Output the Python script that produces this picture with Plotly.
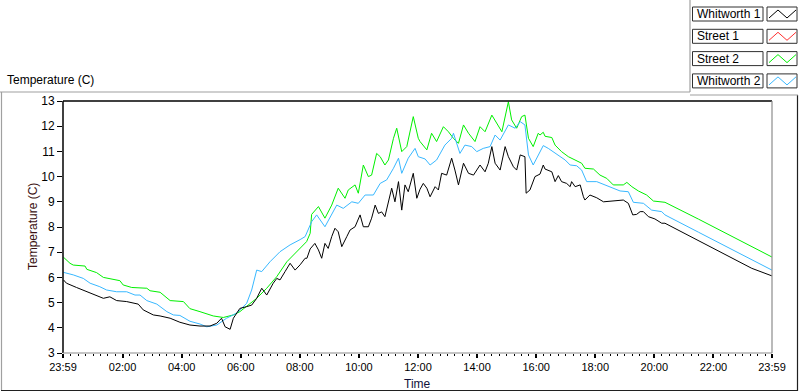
import plotly.graph_objects as go

# ---------------- data (hours since 00:00, temperature in C) ----------------
tick_hours = [-1/60, 2, 4, 6, 8, 10, 12, 14, 16, 18, 20, 22, 24 - 1/60]
tick_labels = ["23:59", "02:00", "04:00", "06:00", "08:00", "10:00", "12:00",
               "14:00", "16:00", "18:00", "20:00", "22:00", "23:59"]
series_names = ["Whitworth 1", "Street 1", "Street 2", "Whitworth 2"]
series_colors = ["#000000", "#ff3030", "#00f000", "#38b8ff"]

whitworth1_h = [0, 0.1, 0.44, 0.79, 1.0, 1.35, 1.57, 1.8, 2.14, 2.31, 2.53, 2.7, 3.04, 3.27, 3.61,
                3.94, 4.28, 4.62, 4.96, 5.19, 5.35, 5.47, 5.64, 5.75, 5.97, 6.2, 6.37, 6.54, 6.71,
                6.88, 7.1, 7.22, 7.33, 7.5, 7.67, 7.84, 8.01, 8.18, 8.24, 8.35, 8.51, 8.63, 8.74,
                8.85, 8.96, 9.08, 9.19, 9.3, 9.42, 9.59, 9.7, 9.87, 10.04, 10.15, 10.32, 10.43,
                10.55, 10.66, 10.77, 10.88, 11.0, 11.11, 11.22, 11.34, 11.45, 11.56, 11.67, 11.84,
                11.96, 12.07, 12.18, 12.3, 12.41, 12.58, 12.69, 12.8, 12.97, 13.14, 13.25, 13.37,
                13.54, 13.71, 13.88, 14.1, 14.27, 14.38, 14.5, 14.61, 14.78, 14.95, 15.06, 15.23,
                15.34, 15.46, 15.62, 15.66, 15.79, 15.96, 16.13, 16.24, 16.3, 16.53, 16.64, 16.75,
                16.86, 17.03, 17.15, 17.2, 17.32, 17.49, 17.6, 17.65, 17.82, 18.05, 18.28, 18.61,
                18.95, 19.12, 19.27, 19.4, 19.52, 19.63, 19.8, 20.02, 20.25, 20.36, 21.5, 22.5,
                23.3, 23.98]
whitworth1_t = [5.9, 5.77, 5.6, 5.43, 5.34, 5.17, 5.23, 5.08, 5.04, 5.0, 4.94, 4.71, 4.51, 4.47, 4.38,
                4.22, 4.11, 4.07, 4.07, 4.18, 4.38, 4.04, 3.94, 4.38, 4.77, 4.84, 4.9, 5.17, 5.57,
                5.3, 5.77, 5.96, 5.9, 6.23, 6.56, 6.29, 6.5, 6.76, 6.76, 7.13, 7.35, 7.09, 6.76,
                7.35, 7.15, 7.62, 7.95, 7.81, 7.22, 7.62, 7.88, 8.01, 8.48, 8.01, 8.01, 8.35,
                8.87, 8.54, 8.6, 8.41, 9.0, 9.54, 9.0, 9.8, 8.67, 9.67, 9.4, 10.13,
                9.14, 9.5, 9.73, 9.54, 9.2, 9.6, 9.47, 10.13, 10.06, 10.73, 10.26, 9.67,
                10.53, 10.13, 10.06, 10.46, 10.19, 10.53, 11.19, 10.53, 10.26, 11.19, 10.79, 10.39,
                10.26, 10.86, 10.79, 9.34, 9.47, 10.0, 10.1, 10.46, 10.3, 10.19, 9.8, 10.04,
                9.8, 9.73, 9.6, 9.8, 9.6, 9.67, 9.2, 9.07, 9.27, 9.16, 9.0, 9.03,
                9.07, 8.94, 8.48, 8.5, 8.61, 8.61, 8.41, 8.32, 8.15, 8.15, 7.45, 6.85,
                6.36, 6.06]

street1_h = []
street1_t = []

street2_h = [0, 0.22, 0.33, 0.73, 0.79, 1.12, 1.35, 1.91, 2.02, 2.31, 2.82, 2.93, 3.27, 3.61, 4.06,
             4.28, 4.62, 5.07, 5.41, 5.75, 5.97, 6.2, 6.54, 6.88, 7.22, 7.56, 7.84, 8.01, 8.23,
             8.35, 8.4, 8.63, 8.85, 9.08, 9.3, 9.53, 9.64, 9.87, 9.98, 10.15, 10.32, 10.43, 10.6,
             10.72, 10.88, 11.0, 11.17, 11.28, 11.45, 11.62, 11.84, 12.01, 12.07, 12.3, 12.46,
             12.63, 12.86, 13.03, 13.2, 13.37, 13.54, 13.71, 13.93, 14.1, 14.27, 14.5, 14.67,
             14.84, 15.06, 15.17, 15.34, 15.51, 15.62, 15.74, 15.9, 16.07, 16.13, 16.24, 16.3,
             16.53, 16.64, 16.86, 17.09, 17.32, 17.54, 17.65, 17.94, 18.16, 18.39, 18.61, 18.95,
             19.07, 19.24, 19.46, 19.74, 19.97, 20.36, 21.5, 22.5, 23.3, 23.98]
street2_t = [6.8, 6.56, 6.49, 6.45, 6.32, 6.19, 6.0, 5.87, 5.7, 5.6, 5.57, 5.47, 5.41, 5.08, 5.04,
             4.76, 4.64, 4.47, 4.41, 4.51, 4.64, 4.84, 5.17, 5.57, 6.03, 6.62, 6.96, 7.15, 7.42,
             7.75, 8.5, 8.81, 8.35, 8.87, 9.54, 9.14, 9.47, 9.67, 9.34, 10.46, 10.0, 10.06, 10.92,
             10.79, 10.46, 10.66, 11.52, 11.92, 10.99, 11.19, 12.38, 11.52, 11.39, 11.06, 11.72,
             11.39, 11.98, 11.78, 11.52, 11.32, 12.05, 11.72, 11.39, 11.98, 11.78, 12.44, 12.12,
             11.78, 12.97, 12.25, 11.92, 12.38, 12.44, 11.52, 11.19, 11.72, 11.65, 11.76, 11.6,
             11.55, 11.25, 10.99, 10.79, 10.66, 10.53, 10.33, 10.3, 10.06, 9.93, 9.67, 9.67,
             9.77, 9.6, 9.43, 9.27, 9.03, 8.98, 8.31, 7.7, 7.22, 6.81]

whitworth2_h = [0, 0.33, 0.67, 0.9, 1.23, 1.46, 1.8, 2.14, 2.42, 2.59, 2.82, 3.16, 3.5, 3.72, 3.94,
                4.28, 4.62, 4.85, 5.19, 5.52, 5.86, 6.2, 6.37, 6.54, 6.71, 6.99, 7.33, 7.67, 8.01,
                8.18, 8.4, 8.57, 8.85, 9.08, 9.25, 9.47, 9.76, 9.98, 10.21, 10.49, 10.72, 10.94,
                11.17, 11.34, 11.45, 11.67, 11.9, 12.01, 12.24, 12.41, 12.63, 12.91, 13.14, 13.2,
                13.42, 13.59, 13.82, 13.99, 14.21, 14.44, 14.61, 14.78, 15.06, 15.29, 15.46, 15.62,
                15.74, 15.9, 16.07, 16.24, 16.41, 16.64, 16.98, 17.15, 17.37, 17.54, 17.71, 18.05,
                18.33, 18.84, 19.12, 19.29, 19.63, 19.91, 20.25, 20.36, 21.5, 22.5, 23.3, 23.98]
whitworth2_t = [6.2, 6.1, 5.96, 5.77, 5.63, 5.5, 5.43, 5.43, 5.3, 5.3, 5.08, 4.94, 4.64, 4.51, 4.49,
                4.26, 4.15, 4.04, 4.11, 4.38, 4.58, 4.97, 5.5, 6.29, 6.23, 6.62, 7.02, 7.29, 7.5,
                7.62, 8.21, 8.48, 8.01, 8.48, 8.87, 8.74, 9.0, 8.94, 9.27, 9.27, 9.73, 9.87,
                10.33, 10.73, 10.13, 10.73, 11.12, 10.79, 10.7, 10.46, 10.66, 11.25, 11.52, 11.72,
                10.92, 11.25, 11.19, 10.99, 11.12, 11.19, 11.65, 11.45, 12.05, 11.92, 12.18, 12.05,
                10.86, 10.46, 10.86, 11.23, 11.12, 10.92, 10.66, 10.46, 10.43, 10.26, 9.8, 9.8,
                9.67, 9.43, 9.4, 8.98, 8.94, 8.67, 8.61, 8.48, 7.79, 7.19, 6.7, 6.29]

series_h = [whitworth1_h, street1_h, street2_h, whitworth2_h]
series_t = [whitworth1_t, street1_t, street2_t, whitworth2_t]

# ---------------- layout helpers ----------------
W, H = 800, 392
PL, PR, PT, PB = 63, 772, 101, 353
FONT = "Liberation Sans, Arial, sans-serif"


def px(x):
    return (x - PL) / (PR - PL)


def py(y):
    return (PB - y) / (PB - PT)


fig = go.Figure()
# draw order: Street 2, Whitworth 2, Street 1, Whitworth 1 (black on top)
for i in [2, 3, 1, 0]:
    fig.add_trace(go.Scatter(x=series_h[i], y=series_t[i], mode="lines", name=series_names[i],
                             line=dict(color=series_colors[i], width=1), showlegend=False))

shapes = []
# plot frame: top/left black, right/bottom gray
shapes.append(dict(type="line", xref="paper", yref="paper", x0=0, x1=1, y0=1, y1=1,
                   line=dict(color="#000000", width=1.5)))
shapes.append(dict(type="line", xref="paper", yref="paper", x0=0, x1=0, y0=0, y1=1,
                   line=dict(color="#000000", width=1.5)))
shapes.append(dict(type="line", xref="paper", yref="paper", x0=1, x1=1, y0=0, y1=1,
                   line=dict(color="#8c8c8c", width=1.2)))
shapes.append(dict(type="line", xref="paper", yref="paper", x0=0, x1=1, y0=0, y1=0,
                   line=dict(color="#8c8c8c", width=1.2)))
# outer control frame
gray = "#a0a0a0"
dark = "#202020"
shapes.append(dict(type="line", xref="paper", yref="paper", x0=px(0), x1=px(690), y0=py(92), y1=py(92),
                   line=dict(color=gray, width=1.2)))
shapes.append(dict(type="line", xref="paper", yref="paper", x0=px(1.5), x1=px(1.5), y0=py(92), y1=py(390),
                   line=dict(color=gray, width=1.2)))
shapes.append(dict(type="line", xref="paper", yref="paper", x0=px(1), x1=px(798), y0=py(390.5), y1=py(390.5),
                   line=dict(color=dark, width=1.2)))
shapes.append(dict(type="line", xref="paper", yref="paper", x0=px(797.5), x1=px(797.5), y0=py(95), y1=py(391),
                   line=dict(color=dark, width=1.2)))
# legend frame
shapes.append(dict(type="line", xref="paper", yref="paper", x0=px(690), x1=px(690), y0=py(0), y1=py(92),
                   line=dict(color=gray, width=1.2)))
shapes.append(dict(type="line", xref="paper", yref="paper", x0=px(690), x1=px(798), y0=py(95), y1=py(95),
                   line=dict(color=gray, width=1.2)))

annotations = []
for i, name in enumerate(series_names):
    top = 7 + 22.3 * i
    bot = top + 14
    shapes.append(dict(type="rect", xref="paper", yref="paper", x0=px(692.5), x1=px(763), y0=py(bot), y1=py(top),
                       line=dict(color="#303030", width=1), fillcolor="white"))
    shapes.append(dict(type="rect", xref="paper", yref="paper", x0=px(767), x1=px(797), y0=py(bot), y1=py(top),
                       line=dict(color="#303030", width=1), fillcolor="white"))
    pts = [(769, bot - 3), (778, top + 3), (787, bot - 3), (796, top + 3)]
    path = "M " + " L ".join(f"{px(a):.5f},{py(b):.5f}" for a, b in pts)
    shapes.append(dict(type="path", xref="paper", yref="paper", path=path,
                       line=dict(color=series_colors[i], width=1)))
    annotations.append(dict(text=name, xref="paper", yref="paper", x=px(695), y=py((top + bot) / 2),
                            xanchor="left", yanchor="middle", showarrow=False,
                            font=dict(family=FONT, size=12, color="#000000")))

annotations.append(dict(text="Temperature (C)", xref="paper", yref="paper", x=px(5), y=py(80),
                        xanchor="left", yanchor="middle", showarrow=False,
                        font=dict(family=FONT, size=12, color="#000000")))
annotations.append(dict(text="Temperature (C)", xref="paper", yref="paper", x=px(33), y=0.5,
                        xanchor="center", yanchor="middle", textangle=-90, showarrow=False,
                        font=dict(family=FONT, size=12, color="#3a1010")))
annotations.append(dict(text="Time", xref="paper", yref="paper", x=0.5, y=py(384),
                        xanchor="center", yanchor="middle", showarrow=False,
                        font=dict(family=FONT, size=12, color="#10103a")))

fig.update_layout(
    width=W, height=H,
    margin=dict(l=PL, r=W - PR, t=PT, b=H - PB, pad=0),
    paper_bgcolor="white", plot_bgcolor="white",
    showlegend=False,
    shapes=shapes, annotations=annotations,
    xaxis=dict(range=[-1/60, 24 - 1/60], tickmode="array", tickvals=tick_hours, ticktext=tick_labels,
               ticks="outside", ticklen=4, tickwidth=1.5, tickcolor="#000000",
               minor=dict(tickmode="linear", tick0=0, dtick=0.25, ticks="outside", ticklen=2,
                          tickwidth=1, tickcolor="#000000", showgrid=False),
               showgrid=False, zeroline=False, showline=False,
               tickfont=dict(family=FONT, size=11, color="#000000")),
    yaxis=dict(range=[3, 13], tickmode="linear", tick0=3, dtick=1,
               ticks="outside", ticklen=5, tickwidth=1, tickcolor="#000000",
               showgrid=False, zeroline=False, showline=False,
               tickfont=dict(family=FONT, size=12, color="#000000")),
)

fig.write_html("out.html",
               config={"displayModeBar": False},
               post_script="document.body.style.margin='0';document.body.style.padding='0';"
                           "document.body.style.overflow='hidden';")
